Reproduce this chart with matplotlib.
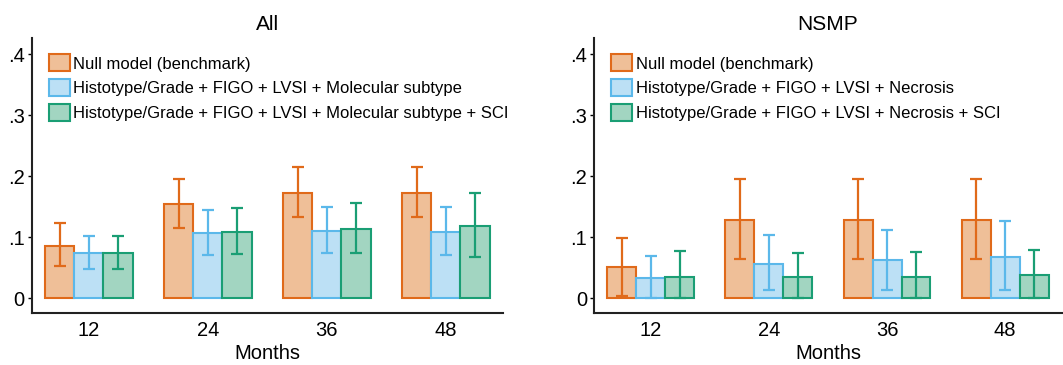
import numpy as np
import matplotlib
matplotlib.use("Agg")
import matplotlib.pyplot as plt

months = ["12", "24", "36", "48"]

# panel "All"
all_labels = [
    "Null model (benchmark)",
    "Histotype/Grade + FIGO + LVSI + Molecular subtype",
    "Histotype/Grade + FIGO + LVSI + Molecular subtype + SCI",
]
all_null = [0.086, 0.155, 0.173, 0.173]
all_null_lo = [0.053, 0.116, 0.133, 0.133]
all_null_hi = [0.123, 0.196, 0.216, 0.216]
all_base = [0.074, 0.107, 0.111, 0.109]
all_base_lo = [0.048, 0.071, 0.074, 0.071]
all_base_hi = [0.102, 0.145, 0.149, 0.150]
all_sci = [0.074, 0.109, 0.114, 0.119]
all_sci_lo = [0.048, 0.072, 0.074, 0.068]
all_sci_hi = [0.102, 0.148, 0.157, 0.172]

# panel "NSMP"
nsmp_labels = [
    "Null model (benchmark)",
    "Histotype/Grade + FIGO + LVSI + Necrosis",
    "Histotype/Grade + FIGO + LVSI + Necrosis + SCI",
]
nsmp_null = [0.051, 0.128, 0.128, 0.128]
nsmp_null_lo = [0.003, 0.064, 0.064, 0.064]
nsmp_null_hi = [0.099, 0.195, 0.195, 0.195]
nsmp_base = [0.033, 0.057, 0.062, 0.068]
nsmp_base_lo = [0.0, 0.014, 0.014, 0.014]
nsmp_base_hi = [0.070, 0.103, 0.112, 0.126]
nsmp_sci = [0.035, 0.035, 0.035, 0.038]
nsmp_sci_lo = [0.0, 0.0, 0.0, 0.0]
nsmp_sci_hi = [0.078, 0.075, 0.076, 0.079]

edge_colors = ["#E06A1A", "#5BB8EA", "#1A9E74"]
fill_colors = ["#EFBF98", "#BCE0F5", "#A2D5C1"]

plt.rcParams["font.family"] = ["Liberation Sans", "DejaVu Sans"]


def draw_panel(ax, title, labels, series):
    x = np.arange(1, len(months) + 1)
    width = 0.245
    offsets = [-width, 0.0, width]
    for i, (vals, lo, hi) in enumerate(series):
        vals = np.array(vals)
        err = np.vstack([vals - np.array(lo), np.array(hi) - vals])
        ax.bar(x + offsets[i], vals, width, color=fill_colors[i],
               edgecolor=edge_colors[i], linewidth=1.5, label=labels[i], zorder=2)
        ax.errorbar(x + offsets[i], vals, yerr=err, fmt="none",
                    ecolor=edge_colors[i], elinewidth=1.6, capsize=4,
                    capthick=1.6, zorder=3)
    ax.set_xlim(0.52, 4.48)
    ax.set_ylim(-0.0236, 0.4267)
    ax.set_xticks(x)
    ax.set_xticklabels(months)
    ax.set_yticks([0, 0.1, 0.2, 0.3, 0.4])
    ax.set_yticklabels(["0", ".1", ".2", ".3", ".4"])
    ax.tick_params(axis="y", length=3, width=1, labelsize=14.5, pad=2)
    ax.tick_params(axis="x", length=0, labelsize=14.5, pad=6)
    for s in ["top", "right"]:
        ax.spines[s].set_visible(False)
    for s in ["left", "bottom"]:
        ax.spines[s].set_linewidth(1.5)
        ax.spines[s].set_color("#222222")
    ax.set_xlabel("Months", fontsize=14.5, labelpad=3)
    ax.set_title(title, fontsize=15, pad=6)
    ax.legend(loc="upper left", bbox_to_anchor=(0.005, 0.995), frameon=False,
              fontsize=12, handlelength=1.25, handleheight=1.2,
              handletextpad=0.2, labelspacing=0.45, borderaxespad=0.5)


fig = plt.figure(figsize=(10.63, 3.65), dpi=100)
ax1 = fig.add_axes([0.0298, 0.1433, 0.4434, 0.7527])
ax2 = fig.add_axes([0.5588, 0.1433, 0.4402, 0.7527])

draw_panel(ax1, "All", all_labels, [
    (all_null, all_null_lo, all_null_hi),
    (all_base, all_base_lo, all_base_hi),
    (all_sci, all_sci_lo, all_sci_hi),
])
draw_panel(ax2, "NSMP", nsmp_labels, [
    (nsmp_null, nsmp_null_lo, nsmp_null_hi),
    (nsmp_base, nsmp_base_lo, nsmp_base_hi),
    (nsmp_sci, nsmp_sci_lo, nsmp_sci_hi),
])

fig.savefig("out.png", dpi=100)
